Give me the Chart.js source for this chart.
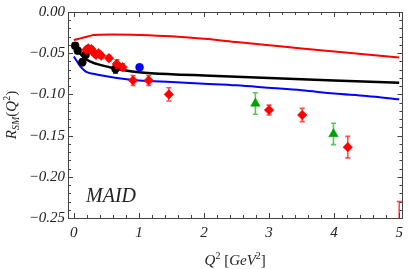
<!DOCTYPE html>
<html><head><meta charset="utf-8">
<script src="https://cdn.jsdelivr.net/npm/chart.js@4.4.1/dist/chart.umd.min.js"></script>
<style>html,body{margin:0;padding:0;background:#fff}#wrap{width:409px;height:269px}</style>
</head><body><div id="wrap"><canvas id="c" width="409" height="269"></canvas></div>
<script>
// ---- data ----
const xTicks = [0, 1, 2, 3, 4, 5];
const yTicks = [0, -0.05, -0.10, -0.15, -0.20, -0.25];

// theory curves
const redLineQ2 = [0.0, 0.1, 0.2, 0.3, 0.4, 0.6, 1.0, 1.5, 2.0, 2.5, 3.0, 3.5, 4.0, 4.5, 5.0];
const redLineR  = [-0.034, -0.032, -0.030, -0.028, -0.0275, -0.0272, -0.0278, -0.0295, -0.0326, -0.0365, -0.0404, -0.0443, -0.0480, -0.0517, -0.0553];
const blackLineQ2 = [0.01, 0.1, 0.2, 0.35, 0.55, 0.8, 1.0, 1.5, 2.0, 3.0, 4.0, 5.0];
const blackLineR  = [-0.040, -0.051, -0.058, -0.063, -0.067, -0.071, -0.073, -0.0755, -0.077, -0.080, -0.083, -0.086];
const blueLineQ2 = [0.0, 0.05, 0.1, 0.15, 0.2, 0.3, 0.5, 0.75, 1.0, 1.5, 2.0, 2.5, 3.0, 3.5, 4.0, 4.5, 5.0];
const blueLineR  = [-0.054, -0.060, -0.066, -0.070, -0.073, -0.075, -0.078, -0.081, -0.083, -0.085, -0.087, -0.089, -0.092, -0.095, -0.099, -0.102, -0.106];

// data points
const redQ2  = [0.19, 0.22, 0.27, 0.30, 0.34, 0.38, 0.42, 0.54, 0.66, 0.75, 0.91, 1.15, 1.46, 3.00, 3.51, 4.21, 5.00];
const redR   = [-0.046, -0.044, -0.045, -0.049, -0.052, -0.050, -0.053, -0.056, -0.063, -0.067, -0.083, -0.083, -0.100, -0.119, -0.125, -0.164, -0.262];
const redErr = [0.003, 0.003, 0.003, 0.003, 0.003, 0.003, 0.003, 0.003, 0.005, 0.004, 0.006, 0.006, 0.008, 0.006, 0.008, 0.013, 0.032];
const blackQ2  = [0.02, 0.06, 0.13, 0.18, 0.64];
const blackR   = [-0.041, -0.047, -0.061, -0.052, -0.069];
const blackErr = [0.003, 0.003, 0.004, 0.006, 0.005];
const blueQ2  = [1.01];
const blueR   = [-0.067];
const blueErr = [0.0];
const greenQ2  = [2.79, 3.99];
const greenR   = [-0.111, -0.148];
const greenErr = [0.013, 0.013];

const pts = (xs, ys) => xs.map((x, i) => ({x: x, y: ys[i]}));

const RED = '#ff0000', BLUE = '#0000ff', BLACK = '#000000', GREEN = '#00a000';
const FONT = '"Liberation Serif", "DejaVu Serif", serif';

const errPlugin = {
  id: 'errbars',
  beforeDatasetDraw(chart, args) {
    const ds = chart.data.datasets[args.index];
    if (!ds.errs) return;
    const xs = chart.scales.x, ys = chart.scales.y, a = chart.chartArea, ctx = chart.ctx;
    ctx.save();
    ctx.beginPath(); ctx.rect(a.left, a.top, a.right - a.left, a.bottom - a.top); ctx.clip();
    ctx.strokeStyle = ds.errColor; ctx.lineWidth = 1.6;
    ds.data.forEach((p, i) => {
      const e = ds.errs[i]; if (!e) return;
      const px = xs.getPixelForValue(p.x);
      const y1 = ys.getPixelForValue(p.y + e), y2 = ys.getPixelForValue(p.y - e);
      ctx.beginPath();
      ctx.moveTo(px, y1); ctx.lineTo(px, y2);
      ctx.moveTo(px - 2.5, y1); ctx.lineTo(px + 2.5, y1);
      ctx.moveTo(px - 2.5, y2); ctx.lineTo(px + 2.5, y2);
      ctx.stroke();
    });
    ctx.restore();
  }
};

function drawRich(ctx, segs, x, y, align) {
  let w = 0;
  segs.forEach(s => { ctx.font = s[1]; w += ctx.measureText(s[0]).width; });
  let cx = align === 'center' ? x - w / 2 : x;
  segs.forEach(s => {
    ctx.font = s[1];
    ctx.fillText(s[0], cx, y + (s[2] || 0));
    cx += ctx.measureText(s[0]).width;
  });
}

const framePlugin = {
  id: 'frame',
  afterDraw(chart) {
    const ctx = chart.ctx, a = chart.chartArea, xs = chart.scales.x, ys = chart.scales.y;
    ctx.save();
    ctx.strokeStyle = '#444'; ctx.lineWidth = 1;
    ctx.strokeRect(Math.round(a.left) + 0.5, Math.round(a.top) + 0.5, Math.round(a.right - a.left), Math.round(a.bottom - a.top));
    ctx.beginPath();
    for (let k = 0; k <= 25; k++) {
      const v = k * 0.2;
      const px = Math.round(xs.getPixelForValue(v)) + 0.5;
      const L = (k % 5 === 0) ? 5 : 3;
      ctx.moveTo(px, a.bottom); ctx.lineTo(px, a.bottom - L);
      ctx.moveTo(px, a.top); ctx.lineTo(px, a.top + L);
    }
    for (let k = 0; k <= 25; k++) {
      const v = -k * 0.01;
      const py = Math.round(ys.getPixelForValue(v)) + 0.5;
      const L = (k % 5 === 0) ? 5 : 3;
      ctx.moveTo(a.left, py); ctx.lineTo(a.left + L, py);
      ctx.moveTo(a.right, py); ctx.lineTo(a.right - L, py);
    }
    ctx.stroke();

    ctx.fillStyle = '#222';
    ctx.textBaseline = 'alphabetic';
    ctx.font = 'italic 20px ' + FONT;
    ctx.fillText('MAID', 86, 201.5);
    const it = 'italic 15px ' + FONT, rg = '15px ' + FONT, supr = '10px ' + FONT;
    drawRich(ctx, [['Q', it], ['2', supr, -6], [' [', rg], ['GeV', it], ['2', supr, -6], [']', rg]], (a.left + a.right) / 2, 265, 'center');
    ctx.save();
    ctx.translate(16, (a.top + a.bottom) / 2);
    ctx.rotate(-Math.PI / 2);
    drawRich(ctx, [['R', it], ['SM', 'italic 10px ' + FONT, 3], ['(', rg], ['Q', it], ['2', supr, -6], [')', rg]], 0, 0, 'center');
    ctx.restore();
    ctx.restore();
  }
};

const scatterDS = (label, xs, ys, errs, color, errColor, style, r) => ({
  label, data: pts(xs, ys), errs, errColor, showLine: false,
  pointStyle: style, pointRadius: r, pointBackgroundColor: color, pointBorderColor: color, pointBorderWidth: 0.5
});
const lineDS = (label, xs, ys, color, w) => ({
  label, data: pts(xs, ys), borderColor: color, borderWidth: w, pointRadius: 0,
  showLine: true, fill: false, cubicInterpolationMode: 'monotone'
});

new Chart(document.getElementById('c'), {
  type: 'scatter',
  data: {
    datasets: [
      scatterDS('blue point', blueQ2, blueR, blueErr, BLUE, BLUE, 'circle', 4),
      scatterDS('green', greenQ2, greenR, greenErr, GREEN, 'rgba(0,170,0,0.65)', 'triangle', 5.5),
      scatterDS('red', redQ2, redR, redErr, RED, 'rgba(255,0,0,0.7)', 'rectRot', 4.8),
      scatterDS('black', blackQ2, blackR, blackErr, BLACK, BLACK, 'circle', 4),
      lineDS('MAID red', redLineQ2, redLineR, RED, 2),
      lineDS('MAID black', blackLineQ2, blackLineR, BLACK, 2.5),
      lineDS('MAID blue', blueLineQ2, blueLineR, BLUE, 2)
    ]
  },
  options: {
    responsive: false, animation: false, devicePixelRatio: 1,
    layout: {padding: {left: 0, right: 6, top: 10, bottom: 0}},
    plugins: {legend: {display: false}, tooltip: {enabled: false}},
    scales: {
      x: {
        type: 'linear', min: -0.09, max: 5.05,
        afterBuildTicks: s => { s.ticks = xTicks.map(v => ({value: v})); },
        afterFit: s => { s.height = 51; },
        grid: {display: false, drawTicks: false}, border: {display: false},
        ticks: {padding: 6, color: '#222', font: {family: FONT, style: 'italic', size: 15}, callback: v => String(v)}
      },
      y: {
        type: 'linear', min: -0.25, max: 0,
        afterBuildTicks: s => { s.ticks = yTicks.map(v => ({value: v})); },
        afterFit: s => { s.width = 68; },
        grid: {display: false, drawTicks: false}, border: {display: false},
        ticks: {padding: 3, color: '#222', font: {family: FONT, style: 'italic', size: 15},
          callback: v => (v < 0 ? '\u2212' : '') + Math.abs(v).toFixed(2)}
      }
    }
  },
  plugins: [errPlugin, framePlugin]
});
</script></body></html>
